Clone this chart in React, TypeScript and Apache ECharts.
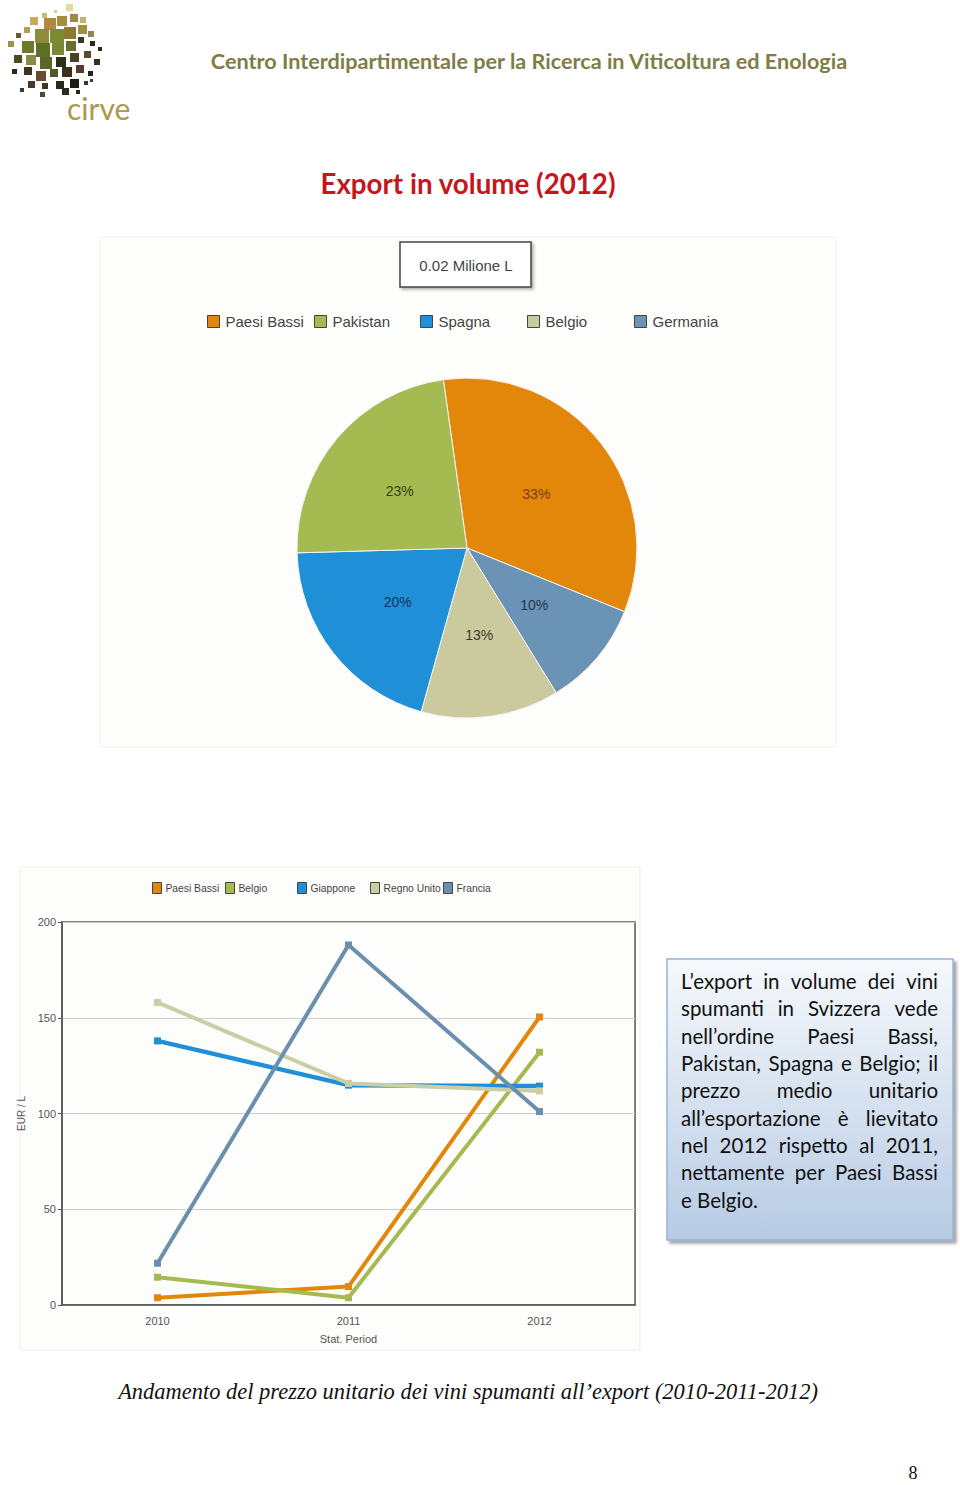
import React, { useEffect, useRef } from "react";
import * as echarts from "echarts";

// ---------- Data ----------
const pieNames = ["Paesi Bassi", "Germania", "Belgio", "Spagna", "Pakistan"];
const pieValues = [33, 10, 13, 20, 23];
const pieColors = ["#E2870A", "#6B93B5", "#CBCA9F", "#1F8FD8", "#A5BA50"];
const pieLabelColors = ["#7A3E00", "#1F3553", "#3A3A2A", "#14355E", "#34421A"];
const pieLegendOrder = ["Paesi Bassi", "Pakistan", "Spagna", "Belgio", "Germania"];
const pieLegendLeft = [207, 314, 420, 527, 634];

const years = ["2010", "2011", "2012"];
const lineNames = ["Paesi Bassi", "Belgio", "Giappone", "Regno Unito", "Francia"];
const paesiBassi = [3.8, 9.6, 150.4];
const belgio = [14.5, 3.8, 132];
const giappone = [137.9, 114.8, 114.3];
const regnoUnito = [158, 115.7, 111.8];
const francia = [21.8, 188, 101];
const lineValues = [paesiBassi, belgio, giappone, regnoUnito, francia];
const lineColors = ["#E2870A", "#A5BA50", "#1F8FD8", "#CBCDA5", "#6B8FAE"];
const lineLegendLeft = [152, 225, 297, 370, 443];
const yMin = 0;
const yMax = 200;
const yStep = 50;

const headerText = "Centro Interdipartimentale per la Ricerca in Viticoltura ed Enologia";
const titleText = "Export in volume (2012)";
const boxTitle = "0.02 Milione L";
const captionText = "Andamento del prezzo unitario dei vini spumanti all\u2019export (2010-2011-2012)";
const noteLines = [
  "L\u2019export in volume dei vini",
  "spumanti in Svizzera vede",
  "nell\u2019ordine Paesi Bassi,",
  "Pakistan, Spagna e Belgio; il",
  "prezzo medio unitario",
  "all\u2019esportazione \u00e8 lievitato",
  "nel 2012 rispetto al 2011,",
  "nettamente per Paesi Bassi",
  "e Belgio.",
];

// logo decoration tiles: [x, y, size, color]
const logoTiles: [number, number, number, string][] = [
  [66, 4, 7, "#E6DA9C"], [42, 13, 5, "#CDB878"], [54, 10, 3, "#D8CA90"], [30, 17, 8, "#C9A95A"],
  [44, 18, 12, "#B08A3A"], [57, 16, 10, "#A88A40"], [70, 14, 8, "#9E8848"], [80, 17, 6, "#C4B070"],
  [24, 27, 6, "#B89A5A"], [16, 33, 5, "#6A5A30"], [35, 29, 14, "#8F8A3C"], [50, 29, 14, "#7E8A30"],
  [64, 27, 12, "#8A7A2E"], [78, 25, 9, "#A09040"], [88, 31, 6, "#8C8A52"], [8, 41, 6, "#9A9250"],
  [22, 41, 12, "#6E7A2A"], [36, 43, 14, "#5E7028"], [52, 43, 12, "#7A8A34"], [66, 41, 10, "#6A6E2C"],
  [78, 37, 6, "#3A3A22"], [90, 41, 5, "#2A2A1A"], [14, 55, 8, "#4C4A24"], [26, 55, 10, "#8A8A48"],
  [40, 57, 12, "#5A6628"], [56, 57, 10, "#2E2E1C"], [70, 53, 9, "#4A4226"], [84, 51, 7, "#5A4A2E"],
  [94, 59, 6, "#3A2A20"], [12, 69, 5, "#2A2A1A"], [24, 67, 8, "#3A3420"], [36, 71, 10, "#6A4A30"],
  [50, 69, 8, "#4A5A28"], [62, 67, 10, "#3C3020"], [76, 65, 8, "#5A3A28"], [88, 71, 5, "#2A221A"],
  [28, 81, 7, "#4A3A26"], [42, 83, 6, "#3A3A22"], [56, 81, 8, "#2A2A1A"], [70, 79, 9, "#1E1E14"],
  [84, 81, 4, "#3A3A2A"], [40, 92, 5, "#4A4A30"], [62, 88, 7, "#2E2A1E"], [76, 90, 4, "#2A2A1A"],
  [98, 47, 4, "#2A2A1A"], [90, 79, 3, "#3A3A3A"], [20, 88, 4, "#3A3A2A"],
];

let measureCtx: CanvasRenderingContext2D | null = null;
function measure(text: string, font: string): number {
  if (!measureCtx) measureCtx = document.createElement("canvas").getContext("2d");
  if (!measureCtx) return text.length * 8;
  measureCtx.font = font;
  return measureCtx.measureText(text).width;
}
function fitSize(text: string, family: string, weight: string, style: string, target: number): number {
  const w = measure(text, `${style} ${weight} 20px ${family}`);
  return (20 * target) / w;
}

export default function App() {
  const ref = useRef<HTMLDivElement>(null);

  useEffect(() => {
    if (!ref.current) return;
    const chart = echarts.init(ref.current, undefined, { renderer: "svg" });

    const sansUI = "'Liberation Sans', Arial, sans-serif";
    const calib = "Lato, 'Open Sans', sans-serif";
    const serif = "'Liberation Serif', 'Times New Roman', serif";

    const headerSize = fitSize(headerText, calib, "bold", "normal", 638);
    const titleSize = fitSize(titleText, calib, "bold", "normal", 296);
    const captionSize = fitSize(captionText, serif, "normal", "italic", 700);

    // justified note text
    const noteSize = 20.5;
    const noteFont = `normal normal ${noteSize}px ${calib}`;
    const noteX0 = 681;
    const noteX1 = 938;
    const noteY0 = 981;
    const noteDy = 27.35;
    const noteEls: any[] = [];
    noteLines.forEach((line, i) => {
      const y = noteY0 + i * noteDy;
      const words = line.split(" ");
      if (i === noteLines.length - 1) {
        noteEls.push({
          type: "text", x: noteX0, y,
          style: { text: line, fontSize: noteSize, fontFamily: calib, fill: "#111", align: "left", verticalAlign: "middle" },
        });
        return;
      }
      const widths = words.map((w) => measure(w, noteFont));
      const total = widths.reduce((a, b) => a + b, 0);
      const gap = words.length > 1 ? (noteX1 - noteX0 - total) / (words.length - 1) : 0;
      let x = noteX0;
      words.forEach((w, k) => {
        noteEls.push({
          type: "text", x, y,
          style: { text: w, fontSize: noteSize, fontFamily: calib, fill: "#111", align: "left", verticalAlign: "middle" },
        });
        x += widths[k] + gap;
      });
    });

    const logoEls = logoTiles.map(([x, y, s, c]) => ({
      type: "rect", shape: { x, y, width: s, height: s }, style: { fill: c },
    }));

    const pieLegends = pieLegendOrder.map((name, i) => {
      const idx = pieNames.indexOf(name);
      return {
        left: pieLegendLeft[i], top: 314, orient: "horizontal", selectedMode: false,
        itemWidth: 12, itemHeight: 12, icon: "rect", padding: 0, itemGap: 0,
        textStyle: { fontSize: 15, color: "#444", fontFamily: sansUI, padding: [0, 0, 0, 1] },
        data: [{ name, icon: "rect", itemStyle: { color: pieColors[idx], borderColor: "#444", borderWidth: 1 } }],
      };
    });
    const lineLegends = lineNames.map((name, i) => ({
      left: lineLegendLeft[i], top: 882, orient: "horizontal", selectedMode: false,
      itemWidth: 9, itemHeight: 11, icon: "rect", padding: 0, itemGap: 0,
      textStyle: { fontSize: 10.3, color: "#444", fontFamily: sansUI, padding: [0, 0, 0, -1] },
      data: [{ name, icon: "rect", itemStyle: { color: lineColors[i], borderColor: "#444", borderWidth: 1 } }],
    }));

    const option: any = {
      animation: false,
      backgroundColor: "#ffffff",
      legend: [...pieLegends, ...lineLegends],
      grid: {
        left: 62, top: 922, width: 573, height: 383,
        show: true, borderColor: "#555", borderWidth: 1.5, backgroundColor: "transparent",
      },
      xAxis: {
        type: "category", data: years, boundaryGap: true,
        name: "Stat. Period", nameLocation: "middle", nameGap: 28,
        nameTextStyle: { fontSize: 11, color: "#555", fontFamily: sansUI },
        axisLine: { lineStyle: { color: "#555", width: 1.5 } },
        axisTick: { show: false },
        axisLabel: { fontSize: 11, color: "#555", fontFamily: sansUI, margin: 10 },
      },
      yAxis: {
        type: "value", min: yMin, max: yMax, interval: yStep,
        name: "EUR / L", nameLocation: "middle", nameGap: 20, nameRotate: 90,
        nameTextStyle: { fontSize: 10, color: "#555", fontFamily: sansUI },
        axisLine: { show: true, lineStyle: { color: "#555", width: 1.5 } },
        axisTick: { show: true, length: 4, lineStyle: { color: "#555" } },
        axisLabel: { fontSize: 11, color: "#555", fontFamily: sansUI, margin: 6 },
        splitLine: { show: true, lineStyle: { color: "#CFCFCF", width: 1 } },
      },
      series: [
        {
          type: "pie", name: "Export", center: [467, 548], radius: 170, startAngle: 98,
          clockwise: true, silent: true,
          data: pieNames.map((n, i) => ({
            name: n, value: pieValues[i],
            itemStyle: { color: pieColors[i] },
            label: { color: pieLabelColors[i] },
          })),
          itemStyle: { borderColor: "#f4f4f4", borderWidth: 1 },
          label: { show: true, position: "inside", formatter: "{c}%", fontSize: 14, fontFamily: sansUI },
          labelLine: { show: false },
        },
        ...lineNames.map((n, i) => ({
          type: "line", name: n, data: lineValues[i],
          symbol: "rect", symbolSize: 7, showSymbol: true,
          lineStyle: { color: lineColors[i], width: i === 2 ? 4.5 : 4 },
          itemStyle: { color: lineColors[i] },
          z: 3,
        })),
      ],
      graphic: [
        // panels
        { type: "rect", z: -10, shape: { x: 100, y: 237, width: 736, height: 510 }, style: { fill: "#FDFDFC", stroke: "#EEF1EC", lineWidth: 1 } },
        { type: "rect", z: -10, shape: { x: 20, y: 867, width: 620, height: 483 }, style: { fill: "#FDFDFC", stroke: "#EEF1EC", lineWidth: 1 } },
        // logo
        ...logoEls,
        { type: "text", x: 67, y: 108, style: { text: "cirve", fontSize: 30, fontFamily: calib, fill: "#A8994E", align: "left", verticalAlign: "middle" } },
        // header
        { type: "text", x: 529, y: 61, style: { text: headerText, fontSize: headerSize, fontWeight: "bold", fontFamily: calib, fill: "#7E7D46", align: "center", verticalAlign: "middle" } },
        // title
        { type: "text", x: 468, y: 183, style: { text: titleText, fontSize: titleSize, fontWeight: "bold", fontFamily: calib, fill: "#C4161C", align: "center", verticalAlign: "middle" } },
        // pie title box
        { type: "rect", shape: { x: 400, y: 242, width: 131, height: 45 }, style: { fill: "#ffffff", stroke: "#444", lineWidth: 1.5, shadowBlur: 3, shadowOffsetX: 2, shadowOffsetY: 2, shadowColor: "rgba(0,0,0,0.3)" } },
        { type: "text", x: 466, y: 265, style: { text: boxTitle, fontSize: 15, fontFamily: sansUI, fill: "#444", align: "center", verticalAlign: "middle" } },
        // note box
        {
          type: "rect", shape: { x: 667, y: 959, width: 286, height: 281 },
          style: {
            fill: new echarts.graphic.LinearGradient(0, 0, 0, 1, [
              { offset: 0, color: "#F6F9FC" },
              { offset: 1, color: "#B7CBE4" },
            ]),
            stroke: "#95B3D7", lineWidth: 1.5,
            shadowBlur: 3, shadowOffsetX: 3, shadowOffsetY: 3, shadowColor: "rgba(0,0,0,0.35)",
          },
        },
        ...noteEls,
        // caption
        { type: "text", x: 468, y: 1391, style: { text: captionText, fontSize: captionSize, fontStyle: "italic", fontFamily: serif, fill: "#111", align: "center", verticalAlign: "middle" } },
        // page number
        { type: "text", x: 913, y: 1473, style: { text: "8", fontSize: 18, fontFamily: serif, fill: "#111", align: "center", verticalAlign: "middle" } },
      ],
    };

    chart.setOption(option);
    return () => chart.dispose();
  }, []);

  return (
    <div
      ref={ref}
      style={{ position: "absolute", left: 0, top: 0, width: 960, height: 1485, background: "#fff" }}
    />
  );
}
